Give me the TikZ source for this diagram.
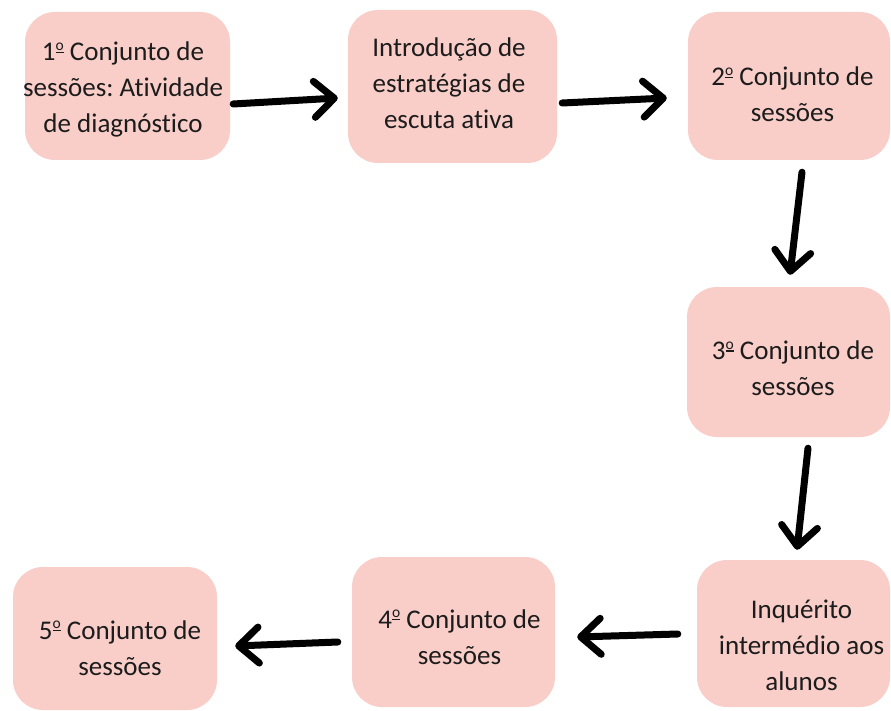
\documentclass[tikz,border=0pt]{standalone}
\usepackage{fontspec}
\setmainfont{Carlito}[Ligatures=CommonOff]
\usetikzlibrary{arrows.meta}
\definecolor{boxpink}{RGB}{249,206,201}
\definecolor{txt}{RGB}{28,28,28}
\newcommand\myord{\raisebox{7.8pt}{\vbox{\hbox{\fontsize{15.5}{15.5}\selectfont o}\kern0.8pt\hrule height 1.3pt}}}
\begin{document}
\begin{tikzpicture}[x=1pt,y=-1pt,
  stepbox/.style={fill=boxpink, rounded corners=30pt, inner sep=0pt},
  steptext/.style={inner sep=0pt, align=center, text=txt, font=\fontsize{27}{36}\selectfont\frenchspacing},
  arr/.style={line width=7pt, line cap=round, black,
    -{Straight Barb[length=20pt,width=36pt,round]}}]
\useasboundingbox (0,0) rectangle (891,711);
\fill[white] (0,0) rectangle (891,711);
\node[stepbox, minimum width=205pt, minimum height=148pt,
  label={[steptext,xshift=-4.5pt,yshift=-3.8pt]center:{\strut 1\myord{} Conjunto de\\\strut sessões: Atividade\\\strut de diagnóstico}}] (b1) at (127.5,86) {};
\node[stepbox, minimum width=209pt, minimum height=153pt,
  label={[steptext,xshift=-3.5pt,yshift=0.7pt]center:{\strut Introdução de\\\strut estratégias de\\\strut escuta ativa}}] (b2) at (452.5,86.5) {};
\node[stepbox, minimum width=202pt, minimum height=148pt,
  label={[steptext,xshift=3.5pt,yshift=-10.8pt]center:{\strut 2\myord{} Conjunto de\\\strut sessões}}] (b3) at (789,86) {};
\node[stepbox, minimum width=203pt, minimum height=150pt,
  label={[steptext,xshift=4.5pt,yshift=-8.3pt]center:{\strut 3\myord{} Conjunto de\\\strut sessões}}] (b4) at (788.5,362) {};
\node[stepbox, minimum width=193pt, minimum height=147pt,
  label={[steptext,xshift=8pt,yshift=-13.3pt]center:{\strut Inquérito\\\strut intermédio aos\\\strut alunos}}] (b5) at (793.5,633.5) {};
\node[stepbox, minimum width=203pt, minimum height=150pt,
  label={[steptext,xshift=6pt,yshift=-6.8pt]center:{\strut 4\myord{} Conjunto de\\\strut sessões}}] (b6) at (453.5,632) {};
\node[stepbox, minimum width=204pt, minimum height=143pt,
  label={[steptext,xshift=5pt,yshift=-11.3pt]center:{\strut 5\myord{} Conjunto de\\\strut sessões}}] (b7) at (115,638.5) {};
\draw[arr] ([xshift=3pt,yshift=-18pt]b1.east) -- ([xshift=-10pt,yshift=-11.5pt]b2.west);
\draw[arr] ([xshift=5pt,yshift=-16.5pt]b2.east) -- ([xshift=-21pt,yshift=-12pt]b3.west);
\draw[arr] ([xshift=13pt,yshift=-12pt]b3.south) -- ([xshift=1.5pt,yshift=12pt]b4.north);
\draw[arr] ([xshift=19.5pt,yshift=-11pt]b4.south) -- ([xshift=3.5pt,yshift=10pt]b5.north);
\draw[arr] ([xshift=-19pt,yshift=-0.5pt]b5.west) -- ([xshift=22pt,yshift=-5pt]b6.east);
\draw[arr] ([xshift=-14pt,yshift=-10pt]b6.west) -- ([xshift=18pt,yshift=-7.5pt]b7.east);
\end{tikzpicture}
\end{document}
